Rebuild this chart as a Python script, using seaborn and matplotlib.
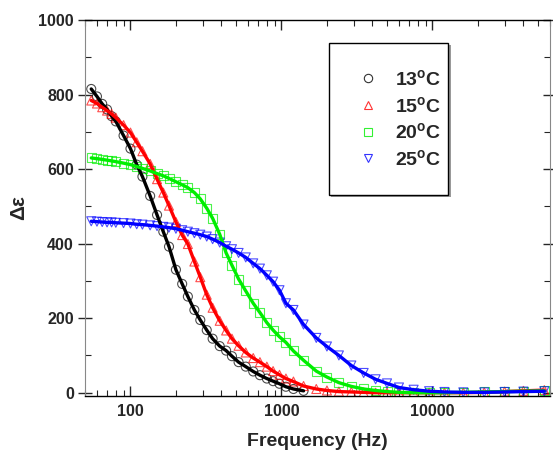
import numpy as np
import pandas as pd
import matplotlib
matplotlib.use("Agg")
import matplotlib.pyplot as plt
from matplotlib.lines import Line2D
from matplotlib.patches import Rectangle
from matplotlib.ticker import FixedLocator, FuncFormatter, MultipleLocator, LogLocator, NullFormatter
import seaborn as sns

# ---------------- data ----------------
freq = [55, 60, 65, 70, 75, 80, 90, 100, 110, 120, 135, 150, 165, 180, 200,
        220, 240, 265, 290, 320, 350, 390, 430, 470, 520, 580, 650, 720, 800,
        880, 970, 1070, 1200, 1400, 1700, 2000, 2400, 2900, 3500, 4200, 5000,
        6000, 7500, 9500, 12000, 16000, 22000, 30000, 40000, 55000]

t13 = [815, 795, 775, 760, 742, 728, 690, 655, 612, 580, 528, 477, 432, 392, 330,
       292, 258, 222, 195, 168, 145, 125, 113, 98, 82, 70, 57, 47, 38,
       31, 24, 16, 10, 5]
t15 = [784, 776, 766, 757, 748, 738, 718, 698, 672, 648, 614, 573, 537, 502, 458,
       423, 399, 352, 310, 263, 228, 193, 167, 145, 126, 108, 93, 82, 70,
       58, 48, 38, 30, 18, 10, 6, 3, 2, 1, 0, 0,
       0, 0, 0, 0, 0, 1, 3, 5, 7]
t20 = [630, 628, 626, 624, 622, 620, 616, 612, 607, 602, 595, 588, 582, 575, 566,
       558, 550, 537, 520, 495, 468, 425, 375, 342, 305, 273, 240, 215, 188,
       168, 150, 135, 112, 87, 58, 42, 27, 17, 10, 6, 3,
       1, 0, 0, 0, 1, 2, 3, 4, 5]
t25 = [460, 459, 458, 457, 457, 456, 455, 454, 452, 451, 449, 447, 445, 443, 440,
       436, 432, 428, 424, 419, 412, 403, 393, 385, 375, 363, 347, 333, 315,
       298, 275, 240, 222, 183, 147, 124, 100, 73, 53, 36, 25,
       14, 8, 4, 2, 1, 1, 2, 3, 4]

labels = ["13$^{\\mathbf{o}}$C", "15$^{\\mathbf{o}}$C", "20$^{\\mathbf{o}}$C", "25$^{\\mathbf{o}}$C"]
series = [t13, t15, t20, t25]
colors = ["#000000", "#ff0000", "#00ee00", "#0000ff"]
markers = ["o", "^", "s", "v"]

rows = []
for lab, vals in zip(labels, series):
    for f, v in zip(freq, vals):
        rows.append({"freq": f, "de": v, "T": lab})
df = pd.DataFrame(rows)

# ---------------- style ----------------
sns.set_style("ticks")
plt.rcParams["font.family"] = ["Liberation Sans", "DejaVu Sans"]
plt.rcParams["font.weight"] = "bold"
plt.rcParams["mathtext.fontset"] = "custom"
plt.rcParams["mathtext.rm"] = "Liberation Sans:bold"
plt.rcParams["mathtext.bf"] = "Liberation Sans:bold"
plt.rcParams["mathtext.it"] = "Liberation Sans:bold"

fig = plt.figure(figsize=(5.53, 4.53), dpi=100)
ax = fig.add_axes([0.1537, 0.1265, 0.8409, 0.8293])

for lab, col, mk in zip(labels, colors, markers):
    sub = df[df["T"] == lab]
    sns.scatterplot(data=sub, x="freq", y="de", marker=mk, s=42,
                    facecolor="none", edgecolor=col, linewidth=0.8, alpha=0.7,
                    ax=ax, legend=False, zorder=2)
    sns.lineplot(data=sub, x="freq", y="de", color=col, lw=2.4,
                 ax=ax, legend=False, zorder=3, estimator=None, sort=True)

ax.set_xscale("log")
ax.set_xlim(50, 60000)
ax.set_ylim(-8, 1000)

ax.xaxis.set_major_locator(FixedLocator([100, 1000, 10000]))
ax.xaxis.set_major_formatter(FuncFormatter(lambda v, p: f"{int(v)}"))
ax.xaxis.set_minor_locator(LogLocator(base=10, subs=np.arange(2, 10)))
ax.xaxis.set_minor_formatter(NullFormatter())
ax.yaxis.set_major_locator(MultipleLocator(200))
ax.yaxis.set_minor_locator(MultipleLocator(100))

ax.tick_params(axis="x", which="major", direction="in", length=7, width=1,
               top=True, bottom=True, labelsize=11.5, pad=6)
ax.tick_params(axis="x", which="minor", direction="in", length=4, width=0.8,
               top=True, bottom=True)
ax.tick_params(axis="y", which="major", direction="inout", length=10, width=1,
               left=True, right=True, labelsize=11.5, pad=3)
ax.tick_params(axis="y", which="minor", direction="in", length=4, width=0.8,
               left=True, right=True)
for lbl in ax.get_xticklabels() + ax.get_yticklabels():
    lbl.set_fontweight("bold")

for sp in ["bottom", "top"]:
    ax.spines[sp].set_color("black")
    ax.spines[sp].set_linewidth(1.0)
ax.spines["right"].set_color("#888888")
ax.spines["left"].set_color("#888888")

ax.set_xlabel("Frequency (Hz)", fontsize=14, fontweight="bold", labelpad=10)
ax.set_ylabel("Δε", fontsize=15, fontweight="bold", labelpad=7)

# legend box (manual frame with a thin shadow)
x0, y0, x1, y1 = 0.525, 0.534, 0.781, 0.939
ax.add_patch(Rectangle((x0 + 0.005, y0 - 0.006), x1 - x0, y1 - y0,
                       transform=ax.transAxes, facecolor="#999999",
                       edgecolor="none", zorder=9))
ax.add_patch(Rectangle((x0, y0), x1 - x0, y1 - y0, transform=ax.transAxes,
                       facecolor="white", edgecolor="black", lw=1.0, zorder=10))

handles = [Line2D([], [], marker=mk, ls="none", mfc="none", mec=col, mew=0.8,
                  markersize=6, alpha=0.8) for col, mk in zip(colors, markers)]
leg = ax.legend(handles, labels, loc="upper left", bbox_to_anchor=(x0, 0.948),
                frameon=False, borderpad=1.5, handlelength=1.0,
                handletextpad=0.9, labelspacing=0.35, borderaxespad=0,
                prop={"size": 14, "weight": "bold"})
leg.set_zorder(11)

fig.savefig("out.png", dpi=100)
